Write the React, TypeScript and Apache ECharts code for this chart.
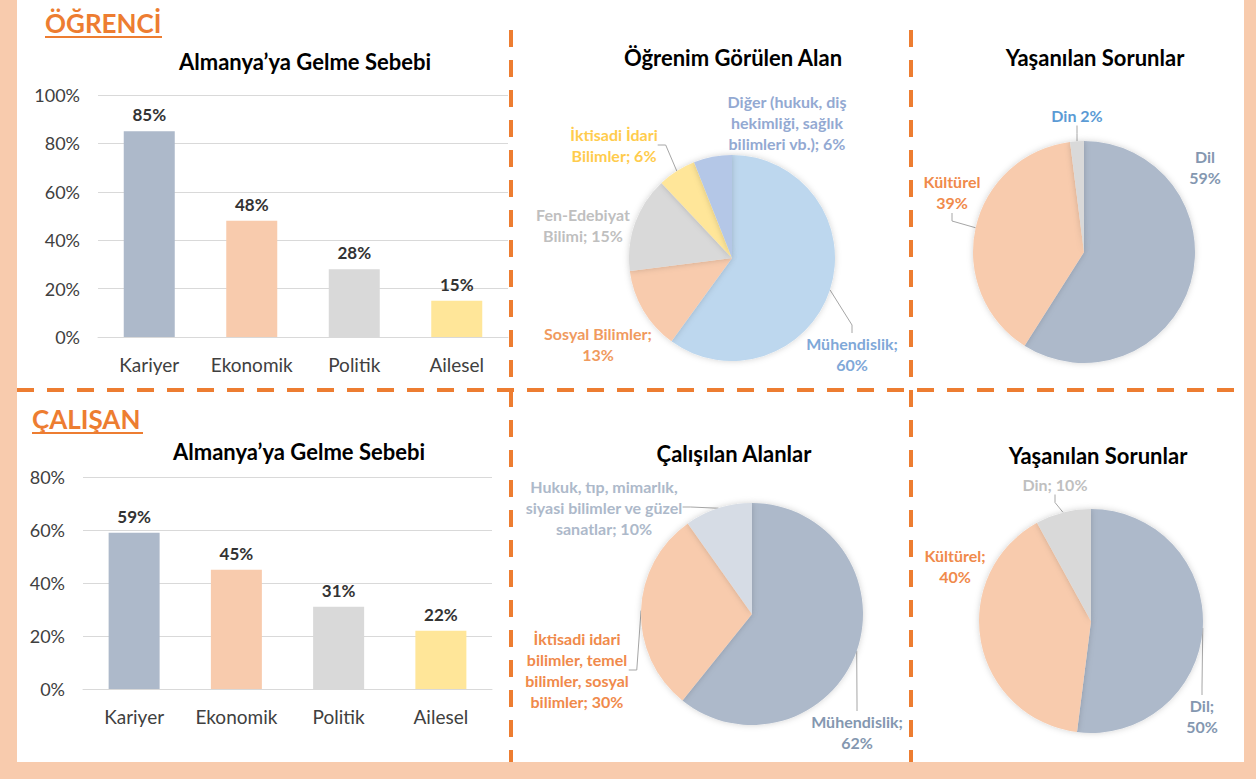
import React, { useEffect, useRef } from 'react';
import * as echarts from 'echarts';

const FONT = 'Lato';

// ---- Bar data ----
const barCategories = ['Kariyer', 'Ekonomik', 'Politik', 'Ailesel'];
const ogrenciSebep = [85, 48, 28, 15];
const calisanSebep = [59, 45, 31, 22];
const barColors = ['#ADB9CA', '#F8CBAD', '#D9D9D9', '#FFE699'];

// ---- Pie data ----
const ogrenciAlanNames = ['Mühendislik', 'Sosyal Bilimler', 'Fen-Edebiyat Bilimi', 'İktisadi İdari Bilimler', 'Diğer'];
const ogrenciAlanValues = [60, 13, 15, 6, 6];
const ogrenciAlanLabels = ['Mühendislik;\n60%', 'Sosyal Bilimler;\n13%', 'Fen-Edebiyat\nBilimi; 15%', 'İktisadi İdari\nBilimler; 6%', 'Diğer (hukuk, diş\nhekimliği, sağlık\nbilimleri vb.); 6%'];

const ogrenciSorunNames = ['Dil', 'Kültürel', 'Din'];
const ogrenciSorunValues = [59, 39, 2];
const ogrenciSorunLabels = ['Dil\n59%', 'Kültürel\n39%', 'Din 2%'];

const calisanAlanNames = ['Mühendislik', 'İktisadi idari bilimler, temel bilimler, sosyal bilimler', 'Hukuk, tıp, mimarlık, siyasi bilimler ve güzel sanatlar'];
const calisanAlanValues = [62, 30, 10];
const calisanAlanLabels = ['Mühendislik;\n62%', 'İktisadi idari\nbilimler, temel\nbilimler, sosyal\nbilimler; 30%', 'Hukuk, tıp, mimarlık,\nsiyasi bilimler ve güzel\nsanatlar; 10%'];

const calisanSorunNames = ['Dil', 'Kültürel', 'Din'];
const calisanSorunValues = [52, 40, 8];
const calisanSorunLabels = ['Dil;\n50%', 'Kültürel;\n40%', 'Din; 10%'];

// ---- Styles / layout (not data) ----
const ogrenciAlanColors = ['#BDD7EE', '#F8CBAD', '#D9D9D9', '#FFE699', '#B4C7E7'];
const ogrenciAlanLabelColors = ['#7FA8D8', '#F09A5E', '#BFBFBF', '#FFCC4D', '#93A9D2'];
const ogrenciAlanLabelPos = [[852, 354], [598, 344], [583, 225], [614, 145], [787, 122]];
const ogrenciAlanLines = [true, false, false, true, false];

const sorunColors = ['#ADB9CA', '#F8CBAD', '#D9D9D9'];
const ogrenciSorunLabelColors = ['#8497B0', '#F08A4B', '#5B9BD5'];
const ogrenciSorunLabelPos = [[1205, 167], [952, 192], [1077, 115]];
const ogrenciSorunLines = [false, true, true];

const calisanAlanColors = ['#ADB9CA', '#F8CBAD', '#D6DCE5'];
const calisanAlanLabelColors = ['#8497B0', '#F08A4B', '#ADB9CA'];
const calisanAlanLabelPos = [[857, 732], [577, 670], [604, 507]];
const calisanAlanLines = [true, true, true];

const calisanSorunLabelColors = ['#8497B0', '#F08A4B', '#BFBFBF'];
const calisanSorunLabelPos = [[1202, 716], [955, 566], [1055, 484]];
const calisanSorunLines = [true, false, true];

const ORANGE = '#ED7D31';

function barSeries(values: number[], idx: number) {
  return {
    type: 'bar',
    xAxisIndex: idx,
    yAxisIndex: idx,
    barWidth: 51,
    data: values.map((v, i) => ({ value: v, itemStyle: { color: barColors[i] } })),
    label: {
      show: true,
      position: 'top',
      distance: 8,
      formatter: '{c}%',
      fontFamily: FONT,
      fontWeight: 'bold',
      fontSize: 17,
      color: '#333333',
    },
  };
}

function pieSeries(
  names: string[], values: number[], labels: string[], colors: string[],
  labelColors: string[], pos: number[][], lines: boolean[],
  center: number[], radius: number
) {
  return {
    type: 'pie',
    center,
    radius,
    startAngle: 90,
    clockwise: true,
    avoidLabelOverlap: false,
    itemStyle: { shadowBlur: 6, shadowColor: 'rgba(0,0,0,0.18)' },
    data: values.map((v, i) => ({
      value: v,
      name: names[i],
      itemStyle: { color: colors[i] },
      label: { color: labelColors[i] },
      labelLine: { show: lines[i] },
    })),
    label: {
      show: true,
      position: 'outside',
      formatter: (p: any) => labels[p.dataIndex],
      fontFamily: FONT,
      fontWeight: 'bold',
      fontSize: 16,
      lineHeight: 21,
      align: 'center',
    },
    labelLine: { show: true, lineStyle: { color: '#A6A6A6', width: 1 }, length: 8, length2: 8 },
    labelLayout: (p: any) => ({
      x: pos[p.dataIndex][0],
      y: pos[p.dataIndex][1],
      align: 'center',
      verticalAlign: 'middle',
    }),
    emphasis: { disabled: true },
  };
}

function titleText(text: string, x: number, y: number, size: number) {
  return {
    type: 'text',
    x,
    y,
    z: 10,
    style: {
      text,
      font: `bold ${size}px ${FONT}`,
      fill: '#000000',
      align: 'center',
      verticalAlign: 'middle',
    },
  };
}

function dashLine(x1: number, y1: number, x2: number, y2: number) {
  return {
    type: 'line',
    z: 5,
    shape: { x1, y1, x2, y2 },
    style: { stroke: ORANGE, lineWidth: 4, lineDash: [17, 13] },
  };
}

export default function App() {
  const ref = useRef<HTMLDivElement>(null);
  useEffect(() => {
    if (!ref.current) return;
    const chart = echarts.init(ref.current, null, { renderer: 'svg' });
    const axisLabelStyle = { fontFamily: FONT, fontSize: 18, color: '#404040' };
    chart.setOption({
      animation: false,
      textStyle: { fontFamily: FONT },
      grid: [
        { left: 98, top: 95, width: 410, height: 242 },
        { left: 83, top: 477, width: 409, height: 212 },
      ],
      xAxis: [0, 1].map((i) => ({
        type: 'category',
        gridIndex: i,
        data: barCategories,
        axisLine: { lineStyle: { color: '#D9D9D9' } },
        axisTick: { show: false },
        axisLabel: { ...axisLabelStyle, fontSize: 19, margin: 18, interval: 0 },
      })),
      yAxis: [
        { type: 'value', gridIndex: 0, min: 0, max: 100, interval: 20 },
        { type: 'value', gridIndex: 1, min: 0, max: 80, interval: 20 },
      ].map((a) => ({
        ...a,
        axisLine: { show: false },
        axisTick: { show: false },
        splitLine: { lineStyle: { color: '#D9D9D9' } },
        axisLabel: { ...axisLabelStyle, formatter: '{value}%', margin: 18 },
      })),
      series: [
        barSeries(ogrenciSebep, 0),
        barSeries(calisanSebep, 1),
        pieSeries(ogrenciAlanNames, ogrenciAlanValues, ogrenciAlanLabels, ogrenciAlanColors,
          ogrenciAlanLabelColors, ogrenciAlanLabelPos, ogrenciAlanLines, [732, 258], 103),
        pieSeries(ogrenciSorunNames, ogrenciSorunValues, ogrenciSorunLabels, sorunColors,
          ogrenciSorunLabelColors, ogrenciSorunLabelPos, ogrenciSorunLines, [1084, 252], 111),
        pieSeries(calisanAlanNames, calisanAlanValues, calisanAlanLabels, calisanAlanColors,
          calisanAlanLabelColors, calisanAlanLabelPos, calisanAlanLines, [752, 614], 111),
        pieSeries(calisanSorunNames, calisanSorunValues, calisanSorunLabels, sorunColors,
          calisanSorunLabelColors, calisanSorunLabelPos, calisanSorunLines, [1091, 621], 112),
      ],
      graphic: [
        { type: 'rect', z: -10, silent: true, shape: { x: 0, y: 0, width: 1256, height: 779 }, style: { fill: '#F8CBAD' } },
        { type: 'rect', z: -9, silent: true, shape: { x: 17, y: 0, width: 1227, height: 762 }, style: { fill: '#FFFFFF' } },
        dashLine(17, 390, 1244, 390),
        dashLine(511, 30, 511, 762),
        dashLine(911, 30, 911, 762),
        {
          type: 'text', x: 45, y: 23, z: 10,
          style: { text: 'ÖĞRENCİ', font: `bold 26px ${FONT}`, fill: ORANGE, align: 'left', verticalAlign: 'middle' },
        },
        { type: 'line', z: 10, shape: { x1: 45, y1: 37, x2: 162, y2: 37 }, style: { stroke: ORANGE, lineWidth: 2 } },
        {
          type: 'text', x: 32, y: 419, z: 10,
          style: { text: 'ÇALIŞAN', font: `bold 26px ${FONT}`, fill: ORANGE, align: 'left', verticalAlign: 'middle' },
        },
        { type: 'line', z: 10, shape: { x1: 32, y1: 433, x2: 143, y2: 433 }, style: { stroke: ORANGE, lineWidth: 2 } },
        titleText('Almanya’ya Gelme Sebebi', 305, 61, 22),
        titleText('Öğrenim Görülen Alan', 733, 57, 22),
        titleText('Yaşanılan Sorunlar', 1095, 57, 22),
        titleText('Almanya’ya Gelme Sebebi', 299, 451, 22),
        titleText('Çalışılan Alanlar', 734, 453, 22),
        titleText('Yaşanılan Sorunlar', 1098, 455, 22),
      ],
    });
    return () => chart.dispose();
  }, []);
  return (
    <div
      ref={ref}
      style={{ position: 'absolute', left: 0, top: 0, width: 1256, height: 779 }}
    />
  );
}
